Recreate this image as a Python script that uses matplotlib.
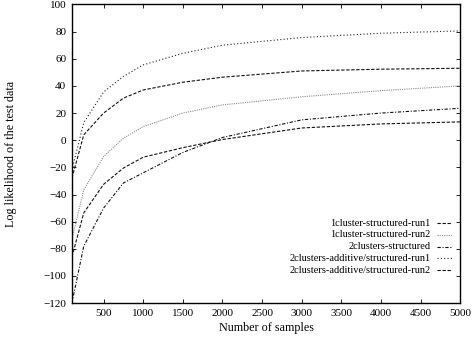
import matplotlib
matplotlib.use('Agg')
import matplotlib.pyplot as plt

# Sample sizes at which the runs were evaluated
samples = [100, 250, 500, 750, 1000, 1500, 2000, 3000, 4000, 5000]

c1_run1 = [-86, -53.5, -32.5, -20.5, -12.5, -5.5, 0.5, 9, 12, 13.5]
c1_run2 = [-73, -36.5, -12, 1.5, 10, 20, 26, 32, 36.5, 40]
c2_struct = [-120, -78, -50, -31.5, -24, -9, 2, 15, 20, 23.5]
c2_add_run1 = [-22, 13, 35.5, 47, 55.5, 64, 70, 75.6, 78.8, 80.5]
c2_add_run2 = [-28, 4, 20, 31, 37, 42.7, 46.4, 51, 52.3, 53]

labels = ['1cluster-structured-run1', '1cluster-structured-run2',
          '2clusters-structured', '2clusters-additive/structured-run1',
          '2clusters-additive/structured-run2']
series = [c1_run1, c1_run2, c2_struct, c2_add_run1, c2_add_run2]
colors = ['#111111', '#8c8c8c', '#111111', '#222222', '#111111']
dashes = [(3, 1.5), (1, 1), (3, 1.5, 1, 1.5), (1, 2), (3, 1.5)]

plt.rcParams['font.family'] = ['Liberation Serif', 'DejaVu Serif']
plt.rcParams['font.size'] = 7.5

fig = plt.figure(figsize=(4.73, 3.41), dpi=100)
ax = fig.add_axes([0.152, 0.111, 0.821, 0.876])

for vals, col, d in zip(series, colors, dashes):
    ax.plot(samples, vals, color=col, linewidth=0.8, dashes=d)

ax.set_xlim(100, 5000)
ax.set_ylim(-120, 100)
ax.set_xticks(range(500, 5001, 500))
ax.set_yticks(range(-120, 101, 20))
ax.tick_params(direction='in', top=True, right=True, length=3, width=0.6,
               pad=4, labelsize=8)
for sp in ax.spines.values():
    sp.set_linewidth(1.0)

ax.set_xlabel('Number of samples', fontsize=8.7)
ax.set_ylabel('Log likelihood of the test data', fontsize=8.7)
ax.xaxis.set_label_coords(0.5, -0.064)
ax.yaxis.set_label_coords(-0.142, 0.5)

# gnuplot style key: right aligned text, sample on the right
y0 = 0.268
step = 0.0395
for i, (lab, col, d) in enumerate(zip(labels, colors, dashes)):
    y = y0 - i * step
    ax.text(0.923, y, lab, transform=ax.transAxes, ha='right', va='center')
    ax.plot([0.941, 0.979], [y, y], transform=ax.transAxes, color=col,
            linewidth=0.8, dashes=d)

fig.savefig('out.png', dpi=100)
